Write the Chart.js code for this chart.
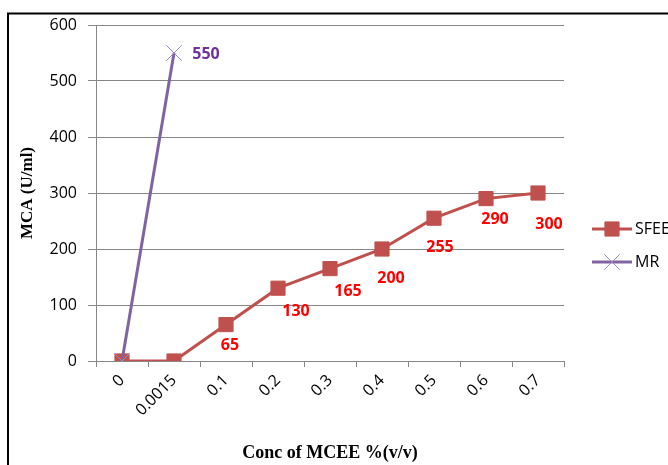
<!DOCTYPE html>
<html>
<head>
<meta charset="utf-8">
<title>MCA vs concentration of MCEE</title>
<script src="https://cdn.jsdelivr.net/npm/chart.js@4.4.1/dist/chart.umd.min.js"></script>
<style>
  html, body { margin: 0; padding: 0; background: #fff; overflow: hidden; }
  #wrap { position: relative; width: 668px; height: 465px; }
</style>
</head>
<body>
<div id="wrap"><canvas id="chart" width="668" height="465"></canvas></div>
<script>
// Concentration categories (x axis)
const categories = ['0', '0.0015', '0.1', '0.2', '0.3', '0.4', '0.5', '0.6', '0.7'];
// MCA (U/ml) per series
const sfeeValues = [0, 0, 65, 130, 165, 200, 255, 290, 300];
const mrValues = [0, 550, null, null, null, null, null, null, null];
// Value-axis ticks
const yTicks = [0, 100, 200, 300, 400, 500, 600];

const seriesNames = ['SFEE', 'MR'];

const GRID = '#878787';
const SFEE_COLOR = '#C0504D';
const MR_COLOR = '#8064A2';

Chart.defaults.font.family = '"Open Sans", sans-serif';

// Outer frame around the whole figure
const framePlugin = {
  id: 'frame',
  beforeDraw(chart) {
    const ctx = chart.ctx;
    ctx.save();
    ctx.fillStyle = '#fff';
    ctx.fillRect(0, 0, chart.width, chart.height);
    ctx.strokeStyle = '#000';
    ctx.lineWidth = 2;
    ctx.strokeRect(8, 13.5, 720, 520);
    ctx.restore();
  }
};

// Value labels next to points; offsets are in pixels from the marker centre
const valueLabelPlugin = {
  id: 'valueLabels',
  afterDatasetsDraw(chart, args, opts) {
    const ctx = chart.ctx;
    chart.data.datasets.forEach((ds, di) => {
      const cfg = opts.sets[di];
      if (!cfg) return;
      const meta = chart.getDatasetMeta(di);
      ctx.save();
      ctx.font = 'bold 16px "Open Sans", sans-serif';
      ctx.fillStyle = cfg.color;
      ctx.textAlign = 'center';
      ctx.textBaseline = 'alphabetic';
      meta.data.forEach((pt, i) => {
        const v = ds.data[i];
        const off = cfg.offsets[i];
        if (v === null || v === undefined || !off) return;
        ctx.fillText(String(v), pt.x + off[0], pt.y + off[1] + 5.7);
      });
      ctx.restore();
    });
  }
};

// Legend on the right, drawn with each dataset's own line and marker style
const sideLegendPlugin = {
  id: 'sideLegend',
  afterDraw(chart, args, opts) {
    const ctx = chart.ctx;
    chart.data.datasets.forEach((ds, di) => {
      const y = opts.top + di * opts.rowGap;
      ctx.save();
      ctx.strokeStyle = ds.borderColor;
      ctx.lineWidth = ds.borderWidth;
      ctx.beginPath();
      ctx.moveTo(opts.left, y);
      ctx.lineTo(opts.left + opts.lineLength, y);
      ctx.stroke();
      ctx.fillStyle = ds.pointBackgroundColor;
      ctx.strokeStyle = ds.pointBorderColor;
      ctx.lineWidth = ds.pointBorderWidth;
      Chart.helpers.drawPoint(ctx, {
        pointStyle: ds.pointStyle,
        radius: ds.pointRadius,
        rotation: 0,
        borderWidth: ds.pointBorderWidth
      }, opts.left + opts.lineLength / 2, y);
      ctx.fillStyle = '#000';
      ctx.font = '16px "Open Sans", sans-serif';
      ctx.textAlign = 'left';
      ctx.textBaseline = 'middle';
      ctx.fillText(ds.label, opts.left + opts.lineLength + 3, y);
      ctx.restore();
    });
  }
};

new Chart(document.getElementById('chart'), {
  type: 'line',
  data: {
    labels: categories,
    datasets: [
      {
        label: seriesNames[0],
        data: sfeeValues,
        order: 1,
        borderColor: SFEE_COLOR,
        backgroundColor: SFEE_COLOR,
        borderWidth: 3,
        pointStyle: 'rect',
        pointRadius: 10,
        pointBackgroundColor: SFEE_COLOR,
        pointBorderColor: SFEE_COLOR,
        pointBorderWidth: 1,
        tension: 0,
        fill: false
      },
      {
        label: seriesNames[1],
        data: mrValues,
        order: 0,
        borderColor: MR_COLOR,
        backgroundColor: MR_COLOR,
        borderWidth: 3,
        pointStyle: 'crossRot',
        pointRadius: 11,
        pointBackgroundColor: '#9d8bc8',
        pointBorderColor: '#9d8bc8',
        pointBorderWidth: 1,
        tension: 0,
        fill: false,
        spanGaps: false
      }
    ]
  },
  options: {
    responsive: false,
    animation: false,
    events: [],
    layout: { padding: { left: 0, top: 25, right: 104, bottom: 0 } },
    plugins: {
      legend: { display: false },
      tooltip: { enabled: false },
      valueLabels: {
        sets: [
          {
            color: '#FF0000',
            offsets: [null, null, [4, 20], [18, 22], [18, 22], [9, 28], [6, 28], [9, 20], [11, 30]]
          },
          {
            color: '#7030A0',
            offsets: [null, [32, 0]]
          }
        ]
      },
      sideLegend: { left: 592, top: 229, rowGap: 33, lineLength: 40 }
    },
    scales: {
      x: {
        type: 'category',
        offset: true,
        grid: {
          display: true,
          offset: true,
          drawOnChartArea: false,
          drawTicks: true,
          tickLength: 6,
          color: GRID
        },
        border: { display: true, color: GRID, width: 1 },
        ticks: {
          autoSkip: false,
          minRotation: 45,
          maxRotation: 45,
          padding: 4,
          color: '#000',
          font: { size: 16 }
        },
        title: {
          display: true,
          text: 'Conc of MCEE %(v/v)',
          color: '#000',
          font: { family: '"Liberation Serif", serif', size: 18, weight: 'bold' },
          padding: { top: 0, bottom: 1 }
        },
        afterFit(scale) { scale.height = 104; }
      },
      y: {
        min: yTicks[0],
        max: yTicks[yTicks.length - 1],
        grid: {
          color: GRID,
          drawTicks: true,
          tickLength: 8
        },
        border: { display: true, color: GRID, width: 1 },
        ticks: {
          stepSize: yTicks[1] - yTicks[0],
          padding: 11,
          color: '#000',
          font: { size: 16 }
        },
        title: {
          display: true,
          text: 'MCA (U/ml)',
          color: '#000',
          font: { family: '"Liberation Serif", serif', size: 17, weight: 'bold' },
          padding: { top: 17, bottom: 0 }
        },
        afterFit(scale) { scale.width = 96; }
      }
    }
  },
  plugins: [framePlugin, valueLabelPlugin, sideLegendPlugin]
});
</script>
</body>
</html>
